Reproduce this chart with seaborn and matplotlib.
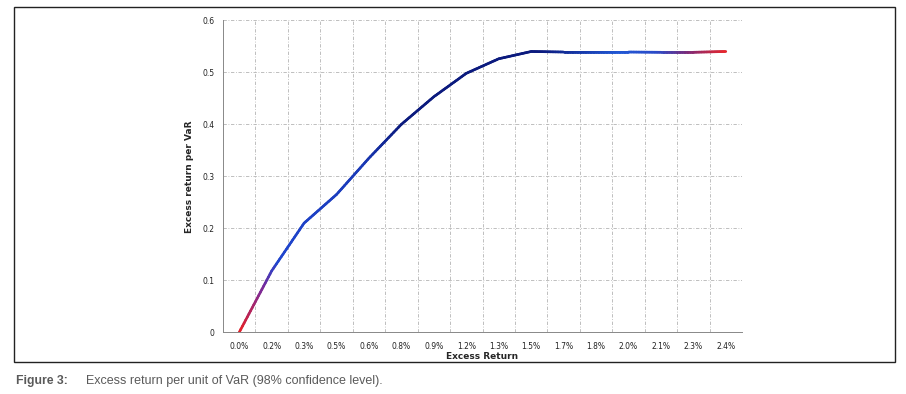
import numpy as np
import pandas as pd
import seaborn as sns
import matplotlib.pyplot as plt
from matplotlib.collections import LineCollection
from matplotlib.colors import LinearSegmentedColormap
from matplotlib.patches import Rectangle

excess_labels = ["0.0%", "0.2%", "0.3%", "0.5%", "0.6%", "0.8%", "0.9%", "1.2%",
                 "1.3%", "1.5%", "1.7%", "1.8%", "2.0%", "2.1%", "2.3%", "2.4%"]
return_per_var = [0.0, 0.118, 0.21, 0.265, 0.335, 0.40, 0.453, 0.498,
                  0.526, 0.540, 0.539, 0.539, 0.539, 0.5385, 0.5385, 0.540]

data = pd.DataFrame({"pos": np.arange(len(excess_labels)),
                     "label": excess_labels,
                     "value": return_per_var})

sns.set_style("white")
plt.rcParams["font.family"] = ["DejaVu Sans"]

fig = plt.figure(figsize=(9.06, 3.94), dpi=100)
ax = fig.add_axes([223 / 906, 1 - 332.3 / 394, (742 - 223) / 906, (332.3 - 20.3) / 394])

# base line through seaborn, then a colour gradient on top (red -> blue -> navy -> blue -> red)
sns.lineplot(data=data, x="pos", y="value", color="#0b1a7e", linewidth=1.2, ax=ax)

cmap = LinearSegmentedColormap.from_list(
    "grad", [(0.0, "#e3202a"), (0.045, "#7a2a9a"), (0.075, "#1f45cf"),
             (0.25, "#1a3ab8"), (0.33, "#0b1a7e"), (0.62, "#0b1a7e"),
             (0.78, "#2158d6"), (0.86, "#2a4ac8"), (0.92, "#7a2a7a"),
             (1.0, "#e8262c")])
xs, ys = [], []
for i in range(len(data) - 1):
    t = np.linspace(0, 1, 20, endpoint=False)
    xs.append(data["pos"][i] + t * (data["pos"][i + 1] - data["pos"][i]))
    ys.append(data["value"][i] + t * (data["value"][i + 1] - data["value"][i]))
xs.append([data["pos"].iloc[-1]])
ys.append([data["value"].iloc[-1]])
xs = np.concatenate(xs)
ys = np.concatenate(ys)
pts = np.column_stack([xs, ys]).reshape(-1, 1, 2)
segs = np.concatenate([pts[:-1], pts[1:]], axis=1)
lc = LineCollection(segs, colors=cmap(xs[:-1] / xs.max()), linewidth=1.9,
                    capstyle="round", zorder=3)
ax.add_collection(lc)

ax.set_xlim(-0.5, len(excess_labels) - 0.5)
ax.set_ylim(0, 0.6)
ax.set_xticks(np.arange(len(excess_labels)))
ax.set_xticklabels(excess_labels)
ax.set_xticks(np.arange(len(excess_labels)) + 0.5, minor=True)
ax.set_yticks([0, 0.1, 0.2, 0.3, 0.4, 0.5, 0.6])
ax.set_yticklabels(["0", "0.1", "0.2", "0.3", "0.4", "0.5", "0.6"])

ax.grid(False)
grid_style = dict(color="#b4b4b4", linewidth=0.6, linestyle=(0, (4, 2, 1, 2)), zorder=1)
for x in np.arange(len(excess_labels)) + 0.5:
    ax.axvline(x, **grid_style)
for y in [0.1, 0.2, 0.3, 0.4, 0.5, 0.6]:
    ax.axhline(y, **grid_style)

ax.tick_params(axis="x", which="major", length=0, labelsize=5.5, pad=7, colors="#222222")
ax.tick_params(axis="x", which="minor", length=3, width=0.6, color="#888888")
ax.tick_params(axis="y", length=3, width=0.6, color="#888888", labelsize=5.5, pad=3,
               labelcolor="#222222")
for s in ["top", "right"]:
    ax.spines[s].set_visible(False)
for s in ["left", "bottom"]:
    ax.spines[s].set_color("#888888")
    ax.spines[s].set_linewidth(0.7)

ax.set_xlabel("Excess Return", fontsize=6.5, fontweight="bold", labelpad=1)
ax.set_ylabel("Excess return per VaR", fontsize=6.5, fontweight="bold", labelpad=6)

fig.patches.append(Rectangle((14 / 906, 1 - 361.7 / 394), (895.3 - 14) / 906,
                             (361.7 - 7) / 394, transform=fig.transFigure,
                             fill=False, edgecolor="#222222", linewidth=1.0))

cap_font = ["Liberation Sans Narrow", "Liberation Sans", "DejaVu Sans"]
fig.text(16 / 906, 1 - 381 / 394, "Figure 3:", fontsize=8.8, fontweight="bold",
         color="#5a5a5a", va="center", ha="left", family=cap_font)
fig.text(86 / 906, 1 - 381 / 394, "Excess return per unit of VaR (98% confidence level).",
         fontsize=9.0, color="#5a5a5a", va="center", ha="left", family=cap_font)

fig.savefig("out.png", dpi=100)
